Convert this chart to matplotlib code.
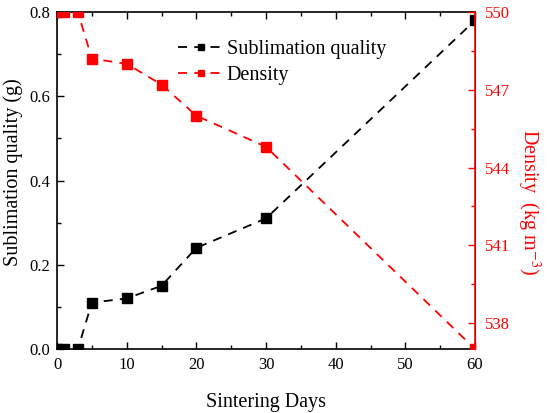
import numpy as np
import matplotlib.pyplot as plt
from matplotlib.ticker import MultipleLocator

plt.rcParams['font.family'] = ['Liberation Serif', 'DejaVu Serif']
plt.rcParams['mathtext.fontset'] = 'stix'

# ----- Data -----
days = [0, 1, 3, 5, 10, 15, 20, 30, 60]
sublimation = [0.0, 0.0, 0.0, 0.11, 0.12, 0.15, 0.24, 0.31, 0.78]
density = [550.0, 550.0, 550.0, 548.2, 548.0, 547.2, 546.0, 544.8, 537.0]

red = '#ff0000'

fig = plt.figure(figsize=(5.47, 4.13), dpi=100)
ax = fig.add_axes([57/547, 1 - 349/413, (475-57)/547, (349-12)/413])
ax2 = ax.twinx()

l1, = ax.plot(days, sublimation, color='black', ls=(0, (5, 4)), lw=1.3,
              marker='s', ms=6.5, label='Sublimation quality')
l2, = ax2.plot(days, density, color=red, ls=(0, (5, 4)), lw=1.3,
               marker='s', ms=6.5, label='Density')

ax.set_xlim(0, 60)
ax.set_ylim(0, 0.8)
ax2.set_ylim(537, 550)

ax.xaxis.set_major_locator(MultipleLocator(10))
ax.xaxis.set_minor_locator(MultipleLocator(5))
ax.yaxis.set_minor_locator(MultipleLocator(0.1))
ax.set_yticks([0, 0.2, 0.4, 0.6, 0.8])
ax.set_yticklabels(['0.0', '0.2', '0.4', '0.6', '0.8'])
ax2.set_yticks([538, 541, 544, 547, 550])
ax2.set_yticks(np.arange(538.0, 550.1, 1.5), minor=True)

ax.tick_params(which='both', direction='in', top=True, labelsize=12, width=1)
ax.tick_params(which='major', length=5)
ax.tick_params(which='minor', length=3)
ax.tick_params(axis='x', pad=6)
ax.tick_params(axis='y', which='both', right=False, pad=5)
ax2.tick_params(which='both', direction='in', colors=red, labelsize=12, width=1, pad=7)
ax2.tick_params(which='major', length=5)
ax2.tick_params(which='minor', length=3)

for s in ['left', 'top', 'bottom']:
    ax.spines[s].set_linewidth(1.2)
ax2.spines['right'].set_color(red)
ax2.spines['right'].set_linewidth(1.2)
for s in ['left', 'top', 'bottom']:
    ax2.spines[s].set_visible(False)

ax.set_xlabel('Sintering Days', fontsize=14.5)
ax.xaxis.set_label_coords(0.5, -0.158)
ax.xaxis.label.set_va('center')

ax.set_ylabel('Sublimation quality (g)', fontsize=14.5)
ax.yaxis.set_label_coords(-0.104, 0.525)
ax.yaxis.label.set_va('center')

ax2.set_ylabel('Density  (kg m$^{-3}$)', fontsize=14.5, color=red, rotation=270)
ax2.yaxis.set_label_coords(1.127, 0.436)
ax2.yaxis.label.set_va('center')

leg = ax.legend(handles=[l1, l2], loc='upper left', bbox_to_anchor=(0.29, 0.917),
                frameon=False, fontsize=14.5, handlelength=2.25, handletextpad=0.15,
                labelspacing=0.35, borderpad=0, borderaxespad=0, markerscale=0.75)

fig.savefig('out.png', dpi=100)
